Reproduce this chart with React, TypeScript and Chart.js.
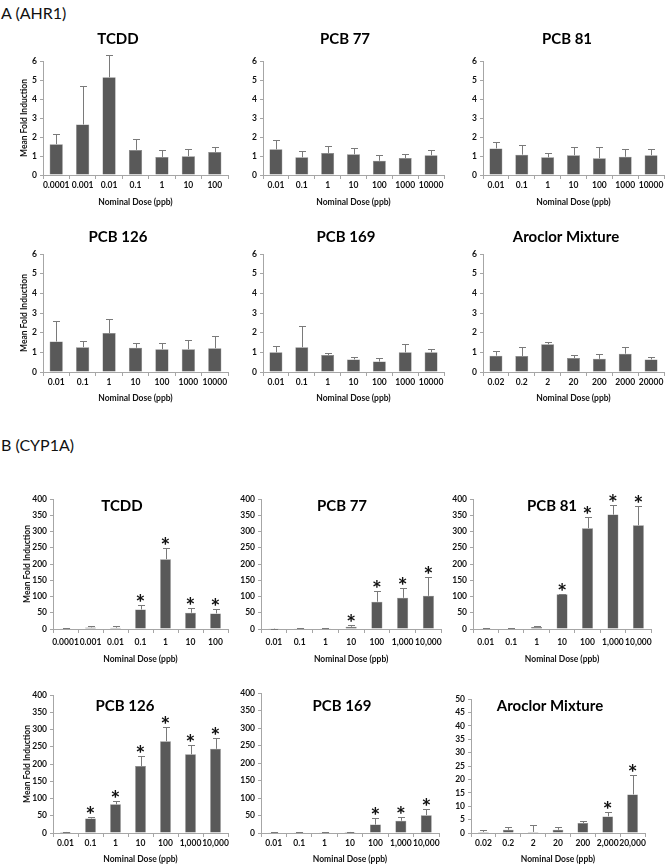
import React, { useEffect, useRef } from "react";
import { Chart, registerables } from "chart.js";
Chart.register(...registerables);

// ---------- categories (tick labels) ----------
const ahrDosesTCDD = ["0.0001", "0.001", "0.01", "0.1", "1", "10", "100"];
const ahrDosesPCB = ["0.01", "0.1", "1", "10", "100", "1000", "10000"];
const ahrDosesAroclor = ["0.02", "0.2", "2", "20", "200", "2000", "20000"];
const cypDosesTCDD = ["0.0001", "0.001", "0.01", "0.1", "1", "10", "100"];
const cypDosesPCB = ["0.01", "0.1", "1", "10", "100", "1,000", "10,000"];
const cypDosesAroclor = ["0.02", "0.2", "2", "20", "200", "2,000", "20,000"];

// ---------- A (AHR1) mean fold induction and error ----------
const ahrTcddMean = [1.62, 2.66, 5.14, 1.32, 0.95, 0.99, 1.21];
const ahrTcddErr = [0.56, 2.04, 1.15, 0.55, 0.37, 0.4, 0.29];
const ahrPcb77Mean = [1.35, 0.93, 1.16, 1.09, 0.75, 0.89, 1.04];
const ahrPcb77Err = [0.49, 0.33, 0.38, 0.33, 0.3, 0.2, 0.26];
const ahrPcb81Mean = [1.4, 1.07, 0.93, 1.04, 0.88, 0.96, 1.04];
const ahrPcb81Err = [0.35, 0.53, 0.25, 0.42, 0.58, 0.39, 0.31];
const ahrPcb126Mean = [1.55, 1.26, 1.98, 1.23, 1.16, 1.16, 1.21];
const ahrPcb126Err = [1.06, 0.32, 0.69, 0.27, 0.34, 0.46, 0.61];
const ahrPcb169Mean = [1.0, 1.26, 0.86, 0.64, 0.53, 1.0, 1.0];
const ahrPcb169Err = [0.34, 1.07, 0.12, 0.12, 0.19, 0.43, 0.19];
const ahrAroclorMean = [0.83, 0.81, 1.41, 0.71, 0.67, 0.93, 0.64];
const ahrAroclorErr = [0.24, 0.45, 0.12, 0.17, 0.26, 0.33, 0.14];

// ---------- B (CYP1A) mean fold induction, error, significance ----------
const cypTcddMean = [2, 5, 4, 60, 215, 50, 48];
const cypTcddErr = [1, 4, 5, 15, 34, 15, 14];
const cypTcddSig = [0, 0, 0, 1, 1, 1, 1];
const cypPcb77Mean = [1, 2, 2, 7, 84, 96, 102];
const cypPcb77Err = [0.5, 1, 1, 5, 34, 30, 57];
const cypPcb77Sig = [0, 0, 0, 1, 1, 1, 1];
const cypPcb81Mean = [2, 1.5, 6, 107, 310, 352, 319];
const cypPcb81Err = [0.5, 0.5, 2, 2, 36, 30, 58];
const cypPcb81Sig = [0, 0, 0, 1, 1, 1, 1];
const cypPcb126Mean = [3, 42, 83, 194, 266, 228, 244];
const cypPcb126Err = [1, 5, 10, 28, 41, 26, 30];
const cypPcb126Sig = [0, 1, 1, 1, 1, 1, 1];
const cypPcb169Mean = [2, 1, 1, 3, 24, 35, 51];
const cypPcb169Err = [1, 0.5, 1, 1, 19, 10, 18];
const cypPcb169Sig = [0, 0, 0, 0, 1, 1, 1];
const cypAroclorMean = [0.4, 1.2, 0.4, 1.2, 3.7, 6.2, 14.4];
const cypAroclorErr = [0.7, 1.2, 2.6, 1.2, 0.8, 1.6, 7.2];
const cypAroclorSig = [0, 0, 0, 0, 0, 1, 1];

// ---------- styles ----------
const BAR = "#595959";
const ERRC = "#7a7a7a";
const AXIS = "#a6a6a6";
const TXT = "#111111";
const FONT = "Lato, 'Open Sans', sans-serif";

type PanelProps = {
  title: string;
  labels: string[];
  means: number[];
  errs: number[];
  sig?: number[];
  yMax: number;
  yStep: number;
  left: number;
  top: number;
  width: number;
  height: number;
  axisX: number;
  xRight: number;
  yTop: number;
  yBottom: number;
  titleX: number;
  titleY: number;
  yTitleX?: number;
  barPct: number;
  tickPad: number;
};

function Panel(p: PanelProps) {
  const ref = useRef<HTMLCanvasElement | null>(null);
  useEffect(() => {
    if (!ref.current) return;
    const tickFont = { family: FONT, size: 8.5, weight: "bold" as const };
    const lh = 8.5 * 1.2;
    const decor = {
      id: "decor",
      afterDatasetsDraw(chart: any) {
        const ctx = chart.ctx as CanvasRenderingContext2D;
        const meta = chart.getDatasetMeta(0);
        const ys = chart.scales.y;
        ctx.save();
        meta.data.forEach((bar: any, i: number) => {
          const x = Math.round(bar.x) + 0.5;
          const yv = ys.getPixelForValue(p.means[i]);
          const ye = Math.round(ys.getPixelForValue(p.means[i] + p.errs[i])) + 0.5;
          ctx.strokeStyle = ERRC;
          ctx.lineWidth = 1;
          ctx.beginPath();
          ctx.moveTo(x, yv);
          ctx.lineTo(x, ye);
          ctx.moveTo(x - 3.5, ye);
          ctx.lineTo(x + 3.5, ye);
          ctx.stroke();
          if (p.sig && p.sig[i]) {
            ctx.font = `bold 23px ${FONT}`;
            ctx.fillStyle = "#111";
            ctx.textAlign = "center";
            ctx.textBaseline = "alphabetic";
            const m = ctx.measureText("*");
            const asc = m.actualBoundingBoxAscent;
            const desc = m.actualBoundingBoxDescent;
            const cy = ye - 8;
            const base = cy + (asc - desc) / 2;
            ctx.fillText("*", bar.x, base);
          }
        });
        ctx.font = `bold 15px ${FONT}`;
        ctx.fillStyle = "#000";
        ctx.textAlign = "center";
        ctx.textBaseline = "middle";
        ctx.fillText(p.title, p.titleX - p.left, p.titleY - p.top);
        ctx.restore();
      },
    };
    const chart = new Chart(ref.current, {
      type: "bar",
      data: {
        labels: p.labels,
        datasets: [
          {
            data: p.means,
            backgroundColor: BAR,
            borderColor: "#7f7f7f",
            borderWidth: 0.5,
            barPercentage: p.barPct,
            categoryPercentage: 1,
          },
        ],
      },
      options: {
        animation: false,
        responsive: false,
        layout: {
          padding: {
            top: p.yTop - p.top,
            right: p.left + p.width - p.xRight,
            left: 0,
            bottom: 0,
          },
        },
        plugins: {
          legend: { display: false },
          tooltip: { enabled: false },
          title: { display: false },
        },
        scales: {
          x: {
            grid: {
              offset: true,
              drawOnChartArea: false,
              drawTicks: true,
              tickLength: 4,
              color: AXIS,
            },
            border: { color: AXIS, width: 1 },
            ticks: {
              font: tickFont,
              color: TXT,
              padding: p.tickPad,
              maxRotation: 0,
              autoSkip: false,
            },
            title: {
              display: true,
              text: "Nominal Dose (ppb)",
              font: { family: FONT, size: 8.5, weight: "bold" },
              color: TXT,
              padding: { top: 0, bottom: 1 },
            },
            afterFit: (s: any) => {
              s.height = p.top + p.height - p.yBottom;
            },
          },
          y: {
            min: 0,
            max: p.yMax,
            grid: {
              drawOnChartArea: false,
              drawTicks: true,
              tickLength: 3,
              color: AXIS,
            },
            border: { color: AXIS, width: 1 },
            ticks: {
              stepSize: p.yStep,
              font: tickFont,
              color: TXT,
              padding: 3,
              autoSkip: false,
            },
            title: {
              display: p.yTitleX !== undefined,
              text: "Mean Fold Induction",
              font: { family: FONT, size: 8.5, weight: "bold" },
              color: TXT,
              padding: {
                top: (p.yTitleX ?? 0) - p.left - lh / 2,
                bottom: 0,
              },
            },
            afterFit: (s: any) => {
              s.width = p.axisX - p.left;
            },
          },
        },
      },
      plugins: [decor],
    } as any);
    return () => chart.destroy();
  }, []);
  return (
    <canvas
      ref={ref}
      width={p.width}
      height={p.height}
      style={{
        position: "absolute",
        left: p.left,
        top: p.top,
        width: p.width,
        height: p.height,
      }}
    />
  );
}

// ---------- layout ----------
const rowA1 = { top: 20, height: 188, yTop: 61, yBottom: 175, titleY: 39, tickPad: 1 };
const rowA2 = { top: 222, height: 182, yTop: 254, yBottom: 372, titleY: 237, tickPad: 1 };
const rowB1 = { top: 470, height: 195, yTop: 499, yBottom: 629, titleY: 506, tickPad: 4 };
const rowB2 = { top: 672, height: 193, yTop: 695, yBottom: 833, titleY: 706, tickPad: 1 };

function box(left: number, axisX: number, xRight: number) {
  return { left, axisX, xRight, width: Math.min(665, xRight + 4) - left };
}

const panels: PanelProps[] = [
  { title: "TCDD", labels: ahrDosesTCDD, means: ahrTcddMean, errs: ahrTcddErr, yMax: 6, yStep: 1, ...rowA1, ...box(0, 43, 228), titleX: 118, yTitleX: 24, barPct: 0.5 },
  { title: "PCB 77", labels: ahrDosesPCB, means: ahrPcb77Mean, errs: ahrPcb77Err, yMax: 6, yStep: 1, ...rowA1, ...box(222, 263, 444), titleX: 345, barPct: 0.5 },
  { title: "PCB 81", labels: ahrDosesPCB, means: ahrPcb81Mean, errs: ahrPcb81Err, yMax: 6, yStep: 1, ...rowA1, ...box(446, 483, 664), titleX: 567, barPct: 0.5 },
  { title: "PCB 126", labels: ahrDosesPCB, means: ahrPcb126Mean, errs: ahrPcb126Err, yMax: 6, yStep: 1, ...rowA2, ...box(0, 43, 228), titleX: 118, yTitleX: 24, barPct: 0.5 },
  { title: "PCB 169", labels: ahrDosesPCB, means: ahrPcb169Mean, errs: ahrPcb169Err, yMax: 6, yStep: 1, ...rowA2, ...box(222, 263, 444), titleX: 346, barPct: 0.5 },
  { title: "Aroclor Mixture", labels: ahrDosesAroclor, means: ahrAroclorMean, errs: ahrAroclorErr, yMax: 6, yStep: 1, ...rowA2, ...box(446, 483, 664), titleX: 566, barPct: 0.5 },
  { title: "TCDD", labels: cypDosesTCDD, means: cypTcddMean, errs: cypTcddErr, sig: cypTcddSig, yMax: 400, yStep: 50, ...rowB1, ...box(0, 53, 228), titleX: 122, yTitleX: 27, barPct: 0.43 },
  { title: "PCB 77", labels: cypDosesPCB, means: cypPcb77Mean, errs: cypPcb77Err, sig: cypPcb77Sig, yMax: 400, yStep: 50, ...rowB1, ...box(222, 261, 442), titleX: 342, barPct: 0.43 },
  { title: "PCB 81", labels: cypDosesPCB, means: cypPcb81Mean, errs: cypPcb81Err, sig: cypPcb81Sig, yMax: 400, yStep: 50, ...rowB1, ...box(446, 473, 652), titleX: 552, barPct: 0.43 },
  { title: "PCB 126", labels: cypDosesPCB, means: cypPcb126Mean, errs: cypPcb126Err, sig: cypPcb126Sig, yMax: 400, yStep: 50, ...rowB2, ...box(0, 53, 228), titleX: 125, yTitleX: 27, barPct: 0.43 },
  { title: "PCB 169", labels: cypDosesPCB, means: cypPcb169Mean, errs: cypPcb169Err, sig: cypPcb169Sig, yMax: 400, yStep: 50, ...rowB2, yTop: 693, ...box(222, 261, 439), titleX: 342, barPct: 0.43 },
  { title: "Aroclor Mixture", labels: cypDosesAroclor, means: cypAroclorMean, errs: cypAroclorErr, sig: cypAroclorSig, yMax: 50, yStep: 5, ...rowB2, yTop: 699, ...box(446, 471, 645), titleX: 550, barPct: 0.43 },
];

export default function App() {
  return (
    <div
      style={{
        position: "absolute",
        left: 0,
        top: 0,
        width: 665,
        height: 864,
        background: "#fff",
        overflow: "hidden",
      }}
    >
      <div style={{ position: "absolute", left: 1, top: 4, font: `16px ${FONT}`, lineHeight: "17px", color: "#111" }}>
        A (AHR1)
      </div>
      <div style={{ position: "absolute", left: 1, top: 436, font: `16px ${FONT}`, lineHeight: "17px", color: "#111" }}>
        B (CYP1A)
      </div>
      {panels.map((p, i) => (
        <Panel key={i} {...p} />
      ))}
    </div>
  );
}
